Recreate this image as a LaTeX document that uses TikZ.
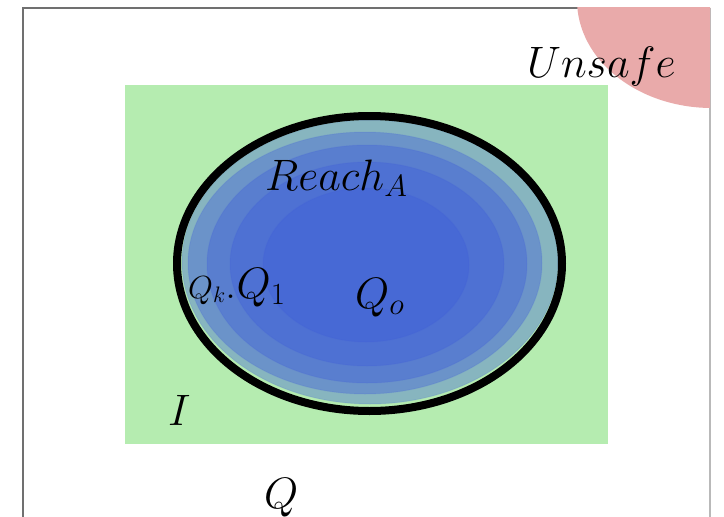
\documentclass[tikz,border=0pt]{standalone}
\usepackage{fix-cm}
\usepackage{amsmath}
\usepackage{tikz}
\definecolor{setgreen}{RGB}{181,236,176}
\definecolor{unsafered}{RGB}{233,170,170}
\definecolor{reachblue}{RGB}{62,92,218}
\definecolor{framegray}{RGB}{112,112,112}

\begin{document}
\begin{tikzpicture}[x=1pt,y=-1pt,
  layer/.style={fill=reachblue,fill opacity=0.38,draw=reachblue,draw opacity=0.15,line width=1pt},
  lbl/.style={anchor=base west,inner sep=0pt,font=\fontsize{44}{50}\selectfont}]
  \useasboundingbox (0,0) rectangle (724,517);
  \fill[white] (0,0) rectangle (724,517);
  \draw[framegray,line width=1.5pt] (23,517) -- (23,8) -- (710,8);
  \draw[gray!55,line width=1.5pt] (710,8) -- (710,517);
  \begin{scope}
    \clip (23,7) rectangle (710,517);
    \fill[unsafered] (712,0) ellipse [x radius=135pt,y radius=108pt];
  \end{scope}
  \fill[setgreen] (125,85) rectangle (608,444);
  \foreach \cx/\cy/\rx/\ry in {370/262/188/142, 365/263/177/131, 367/264/160/119, 367/264/137/102, 366/265/103/77}
    \filldraw[layer] (\cx,\cy) ellipse [x radius=\rx pt,y radius=\ry pt];
  \coordinate (c) at (369.5,263.5);
  \draw[line width=8pt] (c) ellipse [x radius=192.5pt,y radius=147.5pt];
  \node[lbl] (unsafe) at (527,77) {$Unsafe$};
  \node[lbl] (reach) at (265,190) {$Reach_A$};
  \node[lbl] (qo) at (355,308) {$Q_o$};
  \node[lbl] (qk) at (188,298) {{\fontsize{32}{36}\selectfont$Q_k$}.$Q_1$};
  \node[lbl] (init) at (168,425) {$I$};
  \node[lbl] (space) at (264,508) {$Q$};
\end{tikzpicture}
\end{document}
